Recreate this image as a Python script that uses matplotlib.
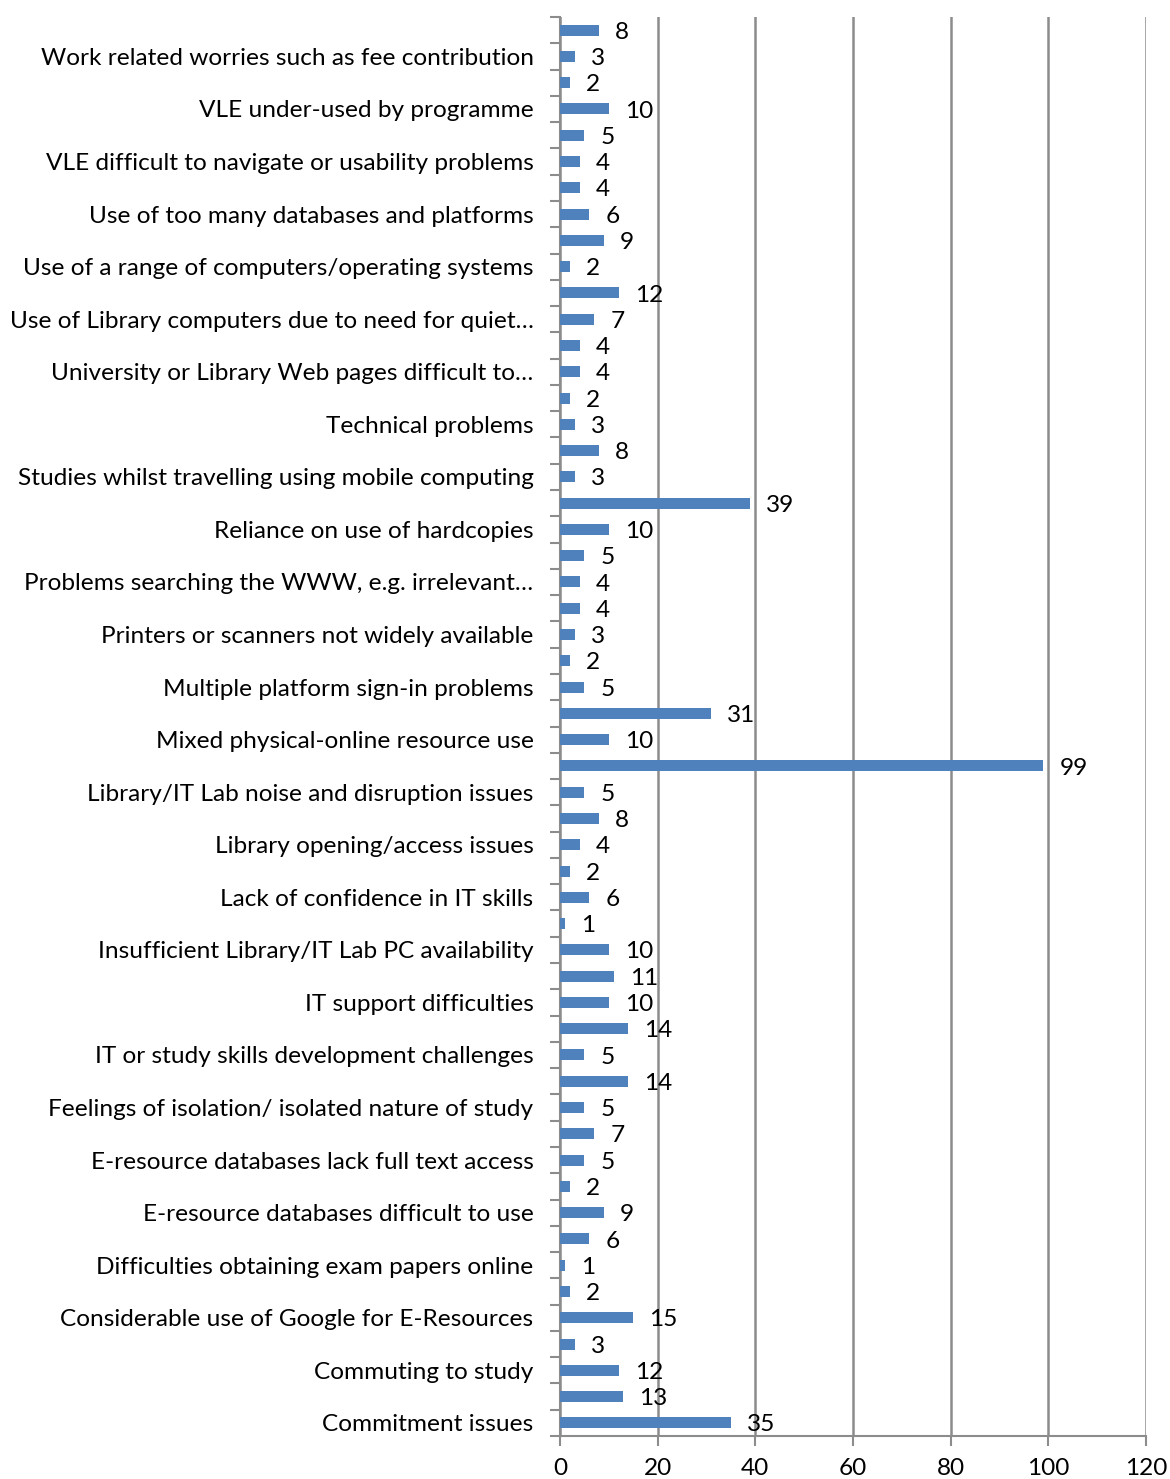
import matplotlib
matplotlib.use("Agg")
import matplotlib.pyplot as plt

# Responses per issue, listed bottom to top as drawn
values = [35, 13, 12, 3, 15, 2, 1, 6, 9, 2, 5, 7, 5, 14, 5, 14, 10, 11, 10, 1,
          6, 2, 4, 8, 5, 99, 10, 31, 5, 2, 3, 4, 4, 5, 10, 39, 3, 8, 3, 2,
          4, 4, 7, 12, 2, 9, 6, 4, 4, 5, 10, 2, 3, 8]

# Category labels (only every other category is labelled on the axis)
labels = [
    "Commitment issues", "",
    "Commuting to study", "",
    "Considerable use of Google for E-Resources", "",
    "Difficulties obtaining exam papers online", "",
    "E-resource databases difficult to use", "",
    "E-resource databases lack full text access", "",
    "Feelings of isolation/ isolated nature of study", "",
    "IT or study skills development challenges", "",
    "IT support difficulties", "",
    "Insufficient Library/IT Lab PC availability", "",
    "Lack of confidence in IT skills", "",
    "Library opening/access issues", "",
    "Library/IT Lab noise and disruption issues", "",
    "Mixed physical-online resource use", "",
    "Multiple platform sign-in problems", "",
    "Printers or scanners not widely available", "",
    "Problems searching the WWW, e.g. irrelevant\u2026", "",
    "Reliance on use of hardcopies", "",
    "Studies whilst travelling using mobile computing", "",
    "Technical problems", "",
    "University or Library Web pages difficult to\u2026", "",
    "Use of Library computers due to need for quiet\u2026", "",
    "Use of a range of computers/operating systems", "",
    "Use of too many databases and platforms", "",
    "VLE difficult to navigate or usability problems", "",
    "VLE under-used by programme", "",
    "Work related worries such as fee contribution", "",
]

x_ticks = [0, 20, 40, 60, 80, 100, 120]

plt.rcParams["font.family"] = ["Lato", "DejaVu Sans"]
FS = 17.6
GRID = "#8c8c8c"
BAR = "#4f81bd"

fig = plt.figure(figsize=(11.7, 14.79), dpi=100)
ax = fig.add_axes([560 / 1170, 1 - 1436 / 1479, 586 / 1170, 1419 / 1479])

n = len(values)
pos = list(range(n))
ax.barh(pos, values, height=0.42, color=BAR, zorder=3)

for y, v in zip(pos, values):
    ax.annotate(str(v), (v, y), xytext=(11.5, -1.5), textcoords="offset points",
                ha="left", va="center", fontsize=FS, color="black", zorder=4)

ax.set_xlim(0, 120)
ax.set_ylim(-0.5, n - 0.5)

ax.set_xticks(x_ticks)
ax.set_xticklabels([str(t) for t in x_ticks], fontsize=FS)
ax.tick_params(axis="x", length=7, width=1.5, color=GRID, pad=9)

# boundary ticks between categories, labels centred on categories
ax.set_yticks([i - 0.5 for i in range(n + 1)])
ax.set_yticklabels([])
ax.tick_params(axis="y", which="major", length=7, width=1.5, color=GRID)
ax.set_yticks(pos, minor=True)
ax.set_yticklabels(labels, minor=True, fontsize=FS)
ax.tick_params(axis="y", which="minor", length=0, pad=19)

ax.grid(axis="x", color=GRID, linewidth=1.8, zorder=0)
for side in ("top", "right"):
    ax.spines[side].set_visible(False)
for side in ("left", "bottom"):
    ax.spines[side].set_color(GRID)
    ax.spines[side].set_linewidth(1.5)

fig.savefig("out.png", dpi=100, facecolor="white")
